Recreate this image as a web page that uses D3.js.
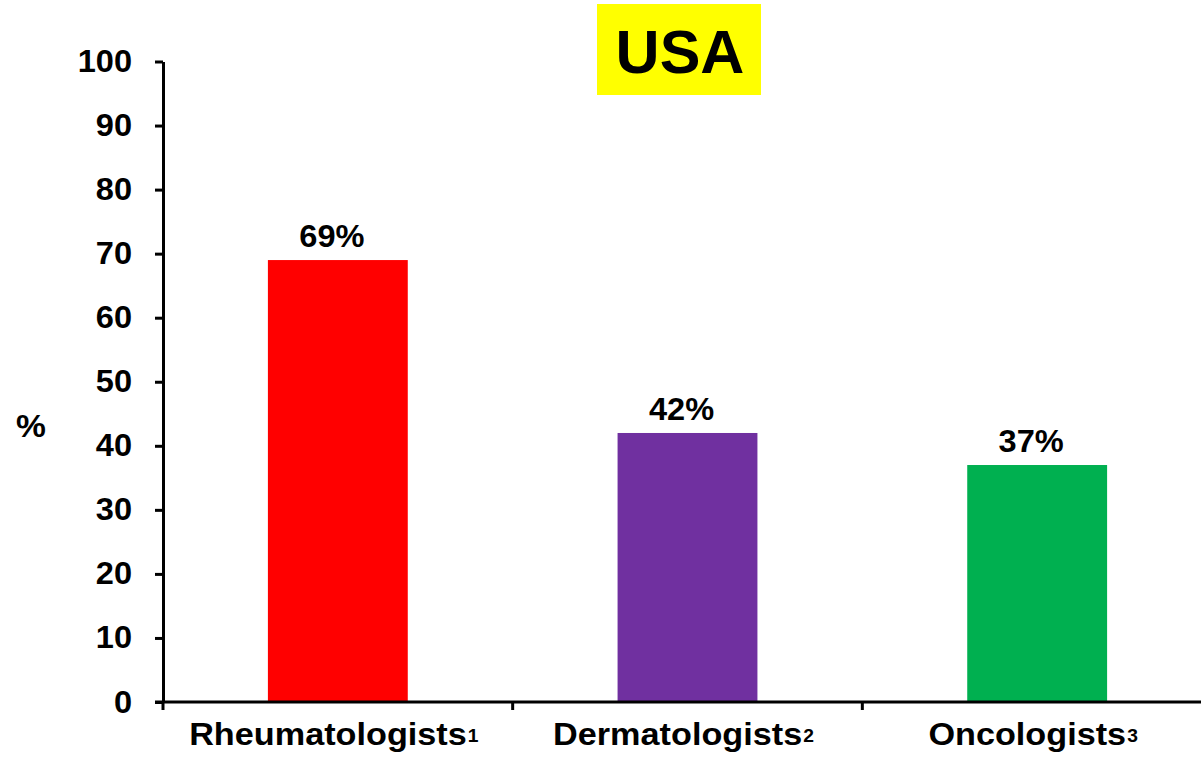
<!DOCTYPE html>
<html>
<head>
<meta charset="utf-8">
<script src="https://cdn.jsdelivr.net/npm/d3@7"></script>
<style>
  html, body { margin: 0; padding: 0; background: #fff; }
  svg { display: block; }
  text { font-family: "Liberation Sans", Arial, Helvetica, sans-serif; font-weight: bold; fill: #000; }
</style>
</head>
<body>
<svg id="chart" width="1201" height="758"></svg>
<script>
// Share of physicians by specialty (USA)
const categories = ["Rheumatologists", "Dermatologists", "Oncologists"];
const footnotes = ["1", "2", "3"];
const values = [69, 42, 37];
const barColors = ["#FF0000", "#7030A0", "#00B050"];
const yTicks = [0, 10, 20, 30, 40, 50, 60, 70, 80, 90, 100];
const chartTitle = "USA";
const yAxisLabel = "%";

const svg = d3.select("#chart");
const stretch = 1.05;

const x = d3.scaleBand().domain(categories).range([163, 1212]).padding(0);
const y = d3.scaleLinear().domain([0, 100]).range([702, 61.5]);
const barW = x.bandwidth() * 0.4;

// Bars
svg.append("g").selectAll("rect")
  .data(categories)
  .join("rect")
  .attr("x", d => x(d) + (x.bandwidth() - barW) / 2)
  .attr("y", (d, i) => y(values[i]))
  .attr("width", barW)
  .attr("height", (d, i) => y(0) - y(values[i]))
  .attr("fill", (d, i) => barColors[i]);

// Value labels
svg.append("g").selectAll("text")
  .data(categories)
  .join("text")
  .attr("text-anchor", "middle")
  .attr("font-size", 31)
  .attr("transform", (d, i) => `translate(${x(d) + x.bandwidth() / 2 - 6},${y(values[i]) - 13}) scale(${stretch},1)`)
  .text((d, i) => values[i] + "%");

// Y axis
const yAxis = svg.append("g")
  .attr("transform", `translate(${x.range()[0]},0)`)
  .call(d3.axisLeft(y).tickValues(yTicks).tickSize(8).tickPadding(0).tickSizeOuter(0));
yAxis.select(".domain").attr("stroke", "#000").attr("stroke-width", 3);
yAxis.selectAll(".tick line").attr("stroke", "#000").attr("stroke-width", 3);
yAxis.selectAll(".tick text")
  .attr("x", null).attr("dy", null)
  .attr("font-size", 31)
  .attr("text-anchor", "end")
  .attr("transform", `translate(-31,10) scale(${stretch},1)`)
  .style("font-family", "'Liberation Sans', Arial, sans-serif")
  .style("font-weight", "bold")
  .attr("fill", "#000");

// X axis
const xAxis = svg.append("g")
  .attr("transform", `translate(0,${y(0)})`);
xAxis.append("line")
  .attr("x1", x.range()[0] - 8).attr("x2", x.range()[1])
  .attr("stroke", "#000").attr("stroke-width", 3);
xAxis.selectAll("line.sep")
  .data(categories)
  .join("line")
  .attr("class", "sep")
  .attr("x1", d => x(d)).attr("x2", d => x(d))
  .attr("y1", 0).attr("y2", 8)
  .attr("stroke", "#000").attr("stroke-width", 3);

// Category labels with footnote markers
const cat = svg.append("g").selectAll("text")
  .data(categories)
  .join("text")
  .attr("text-anchor", "middle")
  .attr("font-size", 32)
  .attr("transform", d => `translate(${x(d) + x.bandwidth() / 2 - 4},745) scale(1.07,1)`);
cat.append("tspan").text(d => d);
cat.append("tspan")
  .attr("font-size", 18)
  .attr("dx", 1)
  .attr("dy", -3)
  .text((d, i) => footnotes[i]);

// Y axis title
svg.append("text")
  .attr("text-anchor", "middle")
  .attr("font-size", 32)
  .attr("transform", `translate(31,437) scale(${stretch},1)`)
  .text(yAxisLabel);

// Title on a yellow box
svg.append("rect")
  .attr("x", 597).attr("y", 4)
  .attr("width", 164).attr("height", 91)
  .attr("fill", "#FFFF00");
svg.append("text")
  .attr("x", 680).attr("y", 73)
  .attr("text-anchor", "middle")
  .attr("font-size", 61)
  .text(chartTitle);
</script>
</body>
</html>
